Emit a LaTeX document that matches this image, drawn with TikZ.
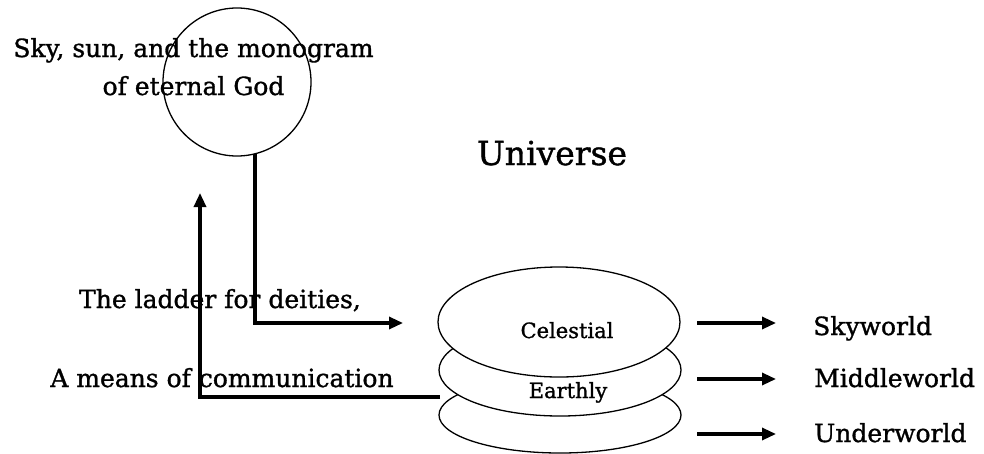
\documentclass[tikz,border=0pt]{standalone}
\usepackage{fontspec}
\setmainfont[FakeBold=1.2]{DejaVu Serif}
\usetikzlibrary{shapes.geometric,arrows.meta}
\begin{document}
\begin{tikzpicture}[x=1pt,y=-1pt,
  thinshape/.style={draw=black,line width=1.3pt,fill=white,inner sep=0pt},
  txt/.style={inner sep=0pt,anchor=base,text=black},
  conn/.style={line width=3.2pt,-{Triangle[length=14pt,width=12pt]}},
  plain/.style={line width=3.2pt}]
\useasboundingbox (0,0) rectangle (984,453);
% circle
\node[thinshape,circle,minimum size=148pt,fill=none] (sky) at (237,82) {};
\node[txt,font=\fontsize{25}{30}\selectfont] (skyA) at (193.5,57) {Sky, sun, and the monogram};
\node[txt,font=\fontsize{25}{30}\selectfont] (skyB) at (193.5,95) {of eternal God};
% title
\node[txt,font=\fontsize{33}{40}\selectfont] (universe) at (552,165) {Universe};
% ellipses
\node[thinshape,ellipse,minimum width=242pt,minimum height=76pt] (under) at (560,415) {};
\node[thinshape,ellipse,minimum width=242pt,minimum height=92pt] (earthly) at (560,370) {};
\node[thinshape,ellipse,minimum width=242pt,minimum height=110pt] (celestial) at (559,322) {};
\node[txt,font=\fontsize{21}{25}\selectfont] (celT) at (567,338) {Celestial};
\node[txt,font=\fontsize{21}{25}\selectfont] (earT) at (568,398) {Earthly};
% left texts
\node[txt,font=\fontsize{25}{30}\selectfont] (ladder) at (220,308) {The ladder for deities,};
\node[txt,font=\fontsize{25}{30}\selectfont] (means) at (222,387) {A means of communication};
% connectors
\coordinate (ladderEnd) at (403,323);
\coordinate (commStart) at (440,397);
\coordinate (ladderTop) at (200,193);
\draw[conn] (sky.-76) |- (ladderEnd);
\draw[conn] (commStart) -| (ladderTop);
% right labels
\node[txt,anchor=base west,font=\fontsize{25}{30}\selectfont] (skyworld) at (813,335) {Skyworld};
\node[txt,anchor=base west,font=\fontsize{25}{30}\selectfont] (middleworld) at (814,387) {Middleworld};
\node[txt,anchor=base west,font=\fontsize{25}{30}\selectfont] (underworld) at (814,442) {Underworld};
\coordinate (r1s) at (697,323); \coordinate (r1e) at (776,323);
\coordinate (r2s) at (697,379); \coordinate (r2e) at (776,379);
\coordinate (r3s) at (697,434); \coordinate (r3e) at (776,434);
\draw[conn] (r1s) -- (r1e);
\draw[conn] (r2s) -- (r2e);
\draw[conn] (r3s) -- (r3e);
\end{tikzpicture}
\end{document}
